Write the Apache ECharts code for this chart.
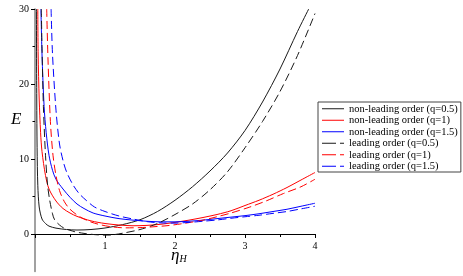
<!DOCTYPE html>
<html><head><meta charset="utf-8">
<script src="https://cdn.jsdelivr.net/npm/echarts@6/dist/echarts.min.js"></script>
<style>html,body{margin:0;padding:0;background:#fff}#c{width:463px;height:276px}</style>
</head><body><div id="c"></div>
<script>
// Series names (legend)
const seriesNames = [
  'non-leading order (q=0.5)', 'non-leading order (q=1)', 'non-leading order (q=1.5)',
  'leading order (q=0.5)', 'leading order (q=1)', 'leading order (q=1.5)'
];
// Read-off values [eta_H, E]
const nlQ05 = [[0.02,30],[0.025,18],[0.03,11.5],[0.04,6.5],[0.06,3.6],[0.1,2.0],[0.15,1.4],[0.2,1.05],[0.3,0.78],[0.45,0.6],[0.6,0.53],[0.8,0.6],[1.0,0.8],[1.25,1.25],[1.5,1.9],[1.75,3.0],[2.0,4.5],[2.25,6.3],[2.5,8.4],[2.75,10.8],[3.0,13.8],[3.25,17.6],[3.5,22.0],[3.75,27.0],[3.91,30]];
const nlQ1 = [[0.04,30],[0.045,24],[0.06,18],[0.08,13.5],[0.1,11],[0.15,7.8],[0.2,6.0],[0.3,4.4],[0.4,3.4],[0.5,2.8],[0.6,2.35],[0.8,1.75],[1.0,1.4],[1.2,1.2],[1.4,1.1],[1.6,1.15],[1.8,1.3],[2.0,1.55],[2.2,1.85],[2.4,2.2],[2.6,2.6],[2.8,3.1],[3.0,3.8],[3.2,4.5],[3.4,5.3],[3.6,6.2],[3.8,7.2],[4.0,8.2]];
const nlQ15 = [[0.085,30],[0.1,24],[0.13,17],[0.16,13.5],[0.2,10.5],[0.25,8.5],[0.3,7.3],[0.4,6.0],[0.5,4.9],[0.6,4.0],[0.7,3.4],[0.83,2.8],[1.0,2.4],[1.2,2.05],[1.4,1.85],[1.6,1.7],[1.8,1.62],[2.0,1.62],[2.2,1.7],[2.4,1.85],[2.6,2.05],[2.8,2.25],[3.0,2.45],[3.2,2.7],[3.4,3.0],[3.6,3.3],[3.8,3.7],[4.0,4.1]];
const lQ05 = [[0.09,30],[0.1,25],[0.12,17],[0.15,10.5],[0.18,6.5],[0.21,4.5],[0.25,2.7],[0.28,1.9],[0.35,1.2],[0.42,0.76],[0.5,0.5],[0.57,0.3],[0.7,0.08],[0.85,-0.08],[1.0,-0.15],[1.1,-0.12],[1.25,0.1],[1.5,0.6],[1.75,1.4],[2.0,2.6],[2.25,4.0],[2.5,5.9],[2.75,8.3],[3.0,11.5],[3.25,15.0],[3.5,19.0],[3.75,23.8],[4.0,29.4]];
const lQ1 = [[0.167,30],[0.186,23.2],[0.22,15],[0.257,10.5],[0.3,7.8],[0.35,5.8],[0.42,4.3],[0.5,3.3],[0.64,2.3],[0.8,1.6],[0.95,1.2],[1.1,0.95],[1.3,0.82],[1.5,0.85],[1.7,0.97],[1.9,1.12],[2.12,1.4],[2.4,1.85],[2.6,2.3],[2.8,2.8],[3.07,3.6],[3.3,4.4],[3.55,5.4],[3.8,6.3],[4.0,7.3]];
const lQ15 = [[0.23,30],[0.25,24],[0.3,16.5],[0.35,12],[0.4,9.8],[0.45,8.3],[0.54,6.6],[0.63,5.4],[0.73,4.5],[0.85,3.6],[1.0,3.0],[1.2,2.4],[1.4,2.0],[1.6,1.65],[1.8,1.48],[2.0,1.45],[2.2,1.55],[2.4,1.7],[2.6,1.87],[2.8,2.1],[3.0,2.3],[3.2,2.5],[3.4,2.75],[3.6,3.0],[3.8,3.35],[4.0,3.7]];
const allData = [nlQ05, nlQ1, nlQ15, lQ05, lQ1, lQ15];
const colors = ['#1a1a1a', '#ff0000', '#0000ff', '#1a1a1a', '#ff0000', '#0000ff'];
const yLabelValues = [0, 10, 20, 30];
const yMinorValues = [5, 15, 25];
const xLabelValues = [1, 2, 3, 4];

const solidIcon = 'path://M0,0H22V1H0Z';
const dashIcon = 'path://M0,0H14V1H0Z M18,0H22V1H18Z';

const chart = echarts.init(document.getElementById('c'), null, {renderer: 'canvas'});
const serif = '"Liberation Serif", "DejaVu Serif", serif';
chart.setOption({
  animation: false,
  grid: {left: 35, right: 148, top: 9, bottom: 4.5, containLabel: false, outerBoundsMode: 'none'},
  xAxis: {
    type: 'value', min: 0, max: 4, interval: 1,
    position: 'bottom', offset: -37.5,
    axisLine: {onZero: false, lineStyle: {color: '#000', width: 1}},
    axisTick: {show: true, length: 4, lineStyle: {color: '#000'}},
    minorTick: {show: true, splitNumber: 2, length: 3, lineStyle: {color: '#000'}},
    splitLine: {show: false},
    axisLabel: {color: '#000', fontFamily: serif, fontSize: 10, margin: 7,
      formatter: v => (xLabelValues.indexOf(v) >= 0 ? String(v) : '')}
  },
  yAxis: [{
    type: 'value', min: -5, max: 30,
    axisLine: {show: true, onZero: false, lineStyle: {color: '#8a8a8a', width: 1.6}},
    axisTick: {show: true, length: 4, customValues: yLabelValues, lineStyle: {color: '#000'}},
    splitLine: {show: false},
    axisLabel: {color: '#000', fontFamily: serif, fontSize: 10, margin: 6, customValues: yLabelValues}
  }, {
    type: 'value', min: -5, max: 30, position: 'left', offset: 0,
    axisLine: {show: false},
    axisTick: {show: true, length: 2.5, customValues: yMinorValues, lineStyle: {color: '#000'}},
    axisLabel: {show: false},
    splitLine: {show: false}
  }],
  legend: {
    orient: 'vertical', left: 318, top: 102,
    data: seriesNames.map((n, i) => ({name: n, icon: i < 3 ? solidIcon : dashIcon})),
    itemWidth: 22, itemHeight: 8, itemGap: 0,
    padding: [1, 3, 0, 4],
    borderColor: '#444', borderWidth: 1,
    textStyle: {fontFamily: serif, fontSize: 10.5, lineHeight: 11.5, color: '#000'}
  },
  series: allData.map((d, i) => ({
    name: seriesNames[i],
    type: 'line',
    data: d,
    showSymbol: false, symbol: 'none',
    smooth: 0.3,
    clip: true,
    lineStyle: {color: colors[i], width: 1, type: i < 3 ? 'solid' : [8, 4]},
    itemStyle: {color: colors[i]}
  })),
  graphic: [
    {type: 'text', left: 11, top: 111, style: {text: 'E', font: 'italic 17px ' + serif, fill: '#000'}},
    {type: 'text', left: 171, top: 247, style: {text: '{a|η}{b|H}', rich: {
      a: {font: 'italic 17px ' + serif, fill: '#000'},
      b: {font: 'italic 10px ' + serif, fill: '#000', verticalAlign: 'bottom', padding: [8, 0, 0, 0]}
    }}}
  ]
});
</script></body></html>
